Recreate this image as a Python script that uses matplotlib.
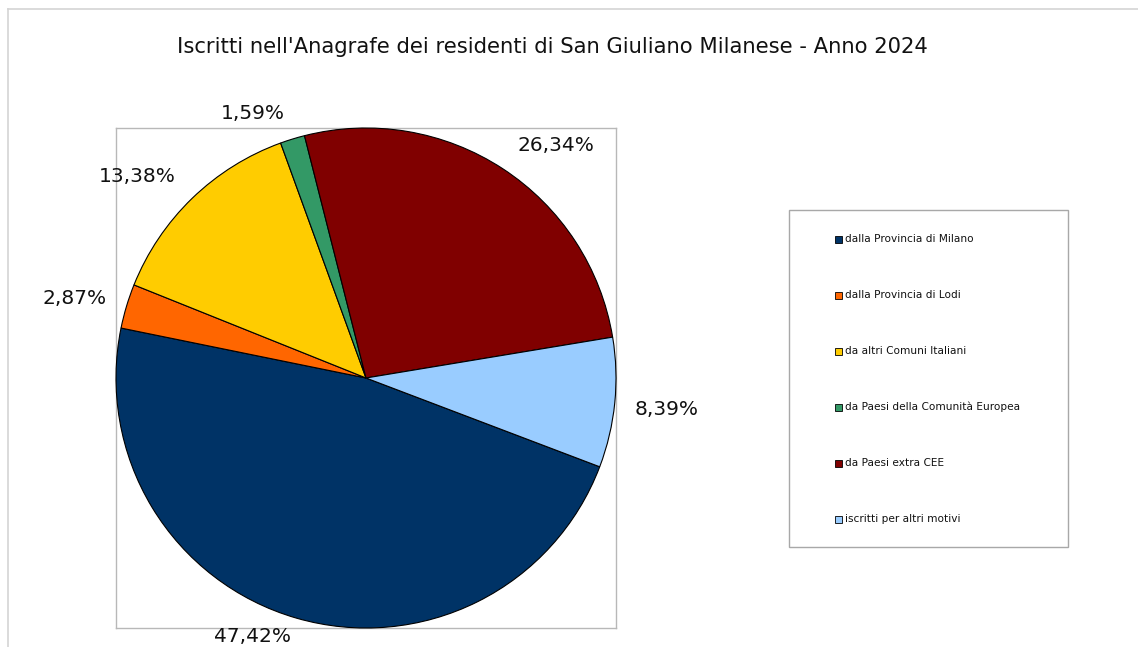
import numpy as np
import matplotlib
matplotlib.use('Agg')
import matplotlib.pyplot as plt
from matplotlib.lines import Line2D
from matplotlib.patches import Rectangle

# data
categories = ['dalla Provincia di Milano', 'dalla Provincia di Lodi', 'da altri Comuni Italiani',
              'da Paesi della Comunità Europea', 'da Paesi extra CEE', 'iscritti per altri motivi']
shares = [47.42, 2.87, 13.38, 1.59, 26.34, 8.39]
colors = ['#003366', '#FF6600', '#FFCC00', '#339966', '#800000', '#99CCFF']
title = "Iscritti nell'Anagrafe dei residenti di San Giuliano Milanese - Anno 2024"

# label placement tweaks (Excel "best fit" moves labels around a bit)
label_dist = [1.13, 1.21, 1.22, 1.15, 1.2, 1.21]
label_turn = [-7.5, 1.5, 4.5, 6.0, -6.0, -0.3]

W, H = 1138, 647
fig = plt.figure(figsize=(W / 100, H / 100), dpi=100)
fig.patch.set_facecolor('white')

# chart area border (only top and left visible in the crop)
fig.add_artist(Line2D([8 / W, 1], [1 - 9 / H, 1 - 9 / H], color='#d4d4d4', lw=1.2))
fig.add_artist(Line2D([8 / W, 8 / W], [0, 1 - 9 / H], color='#d4d4d4', lw=1.2))

fig.text(552 / W, 1 - 47 / H, title, ha='center', va='center', fontsize=15.2, color='#111111')

# plot area
ax = fig.add_axes([116 / W, 1 - 628 / H, 500 / W, 500 / H])

start = -20.8
wedges, _ = ax.pie(shares, colors=colors, startangle=start, counterclock=False, radius=1,
                   wedgeprops=dict(edgecolor='black', linewidth=0.8))
ax.set_xlim(-1, 1)
ax.set_ylim(-1, 1)
ax.set_frame_on(True)
ax.set_xticks([])
ax.set_yticks([])
for s in ax.spines.values():
    s.set_visible(True)
    s.set_color('#b8b8b8')
    s.set_linewidth(1)
    s.set_zorder(0)

for w, v, d, t in zip(wedges, shares, label_dist, label_turn):
    mid = np.deg2rad((w.theta1 + w.theta2) / 2 + t)
    txt = f'{v:.2f}%'.replace('.', ',')
    ax.text(d * np.cos(mid), d * np.sin(mid), txt, ha='center', va='center',
            fontsize=14.5, color='#111111', clip_on=False)

# legend box
lx0, ly0, lx1, ly1 = 789, 210, 1068, 547
fig.add_artist(Rectangle((lx0 / W, 1 - ly1 / H), (lx1 - lx0) / W, (ly1 - ly0) / H,
                         facecolor='white', edgecolor='#a8a8a8', lw=1, transform=fig.transFigure))
for i, (name, c) in enumerate(zip(categories, colors)):
    y = 239 + i * 56
    fig.add_artist(Rectangle((835 / W, 1 - (y + 3.5) / H), 7 / W, 7 / H, facecolor=c,
                             edgecolor='black', lw=0.6, transform=fig.transFigure))
    fig.text(845 / W, 1 - y / H, name, ha='left', va='center', fontsize=7.6, color='#111111')

fig.savefig('out.png', dpi=100)
